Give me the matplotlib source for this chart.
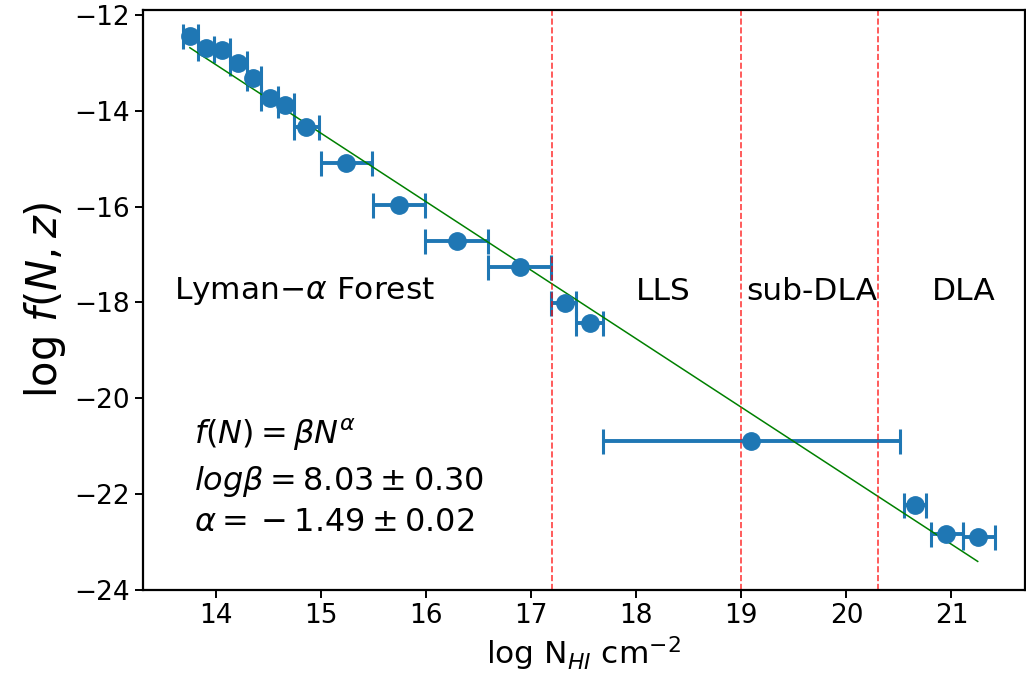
import numpy as np
import matplotlib
matplotlib.use("Agg")
import matplotlib.pyplot as plt

# Column density distribution, log f(N,z) vs log N_HI
logN = [13.75, 13.905, 14.057, 14.21, 14.355, 14.51, 14.66, 14.86, 15.24, 15.74,
        16.29, 16.89, 17.32, 17.555, 19.09, 20.65, 20.95, 21.25]
logf = [-12.44, -12.68, -12.73, -13.01, -13.32, -13.74, -13.88, -14.34, -15.09, -15.96,
        -16.71, -17.26, -18.01, -18.44, -20.89, -22.23, -22.83, -22.90]
bin_lo = [13.68, 13.83, 13.98, 14.13, 14.29, 14.43, 14.59, 14.74, 15.0, 15.49,
          15.99, 16.59, 17.19, 17.43, 17.68, 20.55, 20.81, 21.11]
bin_hi = [13.83, 13.98, 14.13, 14.29, 14.43, 14.59, 14.74, 14.98, 15.48, 15.99,
          16.59, 17.19, 17.43, 17.68, 20.51, 20.76, 21.11, 21.41]

# power-law fit line (log f = a + b log N)
fit_a = 6.98
fit_b = -1.43

# class boundaries and names
bounds = [17.2, 19.0, 20.3]
regions = ["LLS", "sub-DLA", "DLA"]
region_x = [18.26, 19.67, 21.12]

logN = np.array(logN)
logf = np.array(logf)
xerr = [logN - np.array(bin_lo), np.array(bin_hi) - logN]

fig = plt.figure(figsize=(10.26, 6.85), dpi=100)
ax = fig.add_axes([0.139, 0.139, 0.86, 0.846])

ax.errorbar(logN, logf, xerr=xerr, fmt="o", color="#1f77b4", markersize=12.5,
            elinewidth=2.8, capsize=9, capthick=2.2)

xx = np.array([logN[0], logN[-1]])
ax.plot(xx, fit_a + fit_b * xx, color="green", lw=1.1)

for b in bounds:
    ax.axvline(b, color="red", ls="--", lw=1.2, alpha=0.75)

ax.text(13.6, -17.77, r"Lyman$-\alpha$ Forest", fontsize=22.5, ha="left", va="center")
for name, x in zip(regions, region_x):
    ax.text(x, -17.77, name, fontsize=22.5, ha="center", va="center")

ax.text(13.79, -20.76, r"$f(N) = \beta N^{\alpha}$", fontsize=23, va="center")
ax.text(13.79, -21.74, r"$log\beta = 8.03 \pm 0.30$", fontsize=23, va="center")
ax.text(13.79, -22.6, r"$\alpha = {}-1.49 \pm 0.02$", fontsize=23, va="center")

ax.set_xlim(13.3, 21.7)
ax.set_ylim(-24, -11.9)
ax.set_xticks(range(14, 22))
ax.set_yticks(range(-24, -11, 2))
ax.tick_params(labelsize=19, length=6, width=1.4)
for s in ax.spines.values():
    s.set_linewidth(1.6)

ax.set_xlabel(r"log N$_{HI}$ cm$^{-2}$", fontsize=22.5)
ax.set_ylabel(r"log $f(N, z)$", fontsize=30)

fig.savefig("out.png", dpi=100)
